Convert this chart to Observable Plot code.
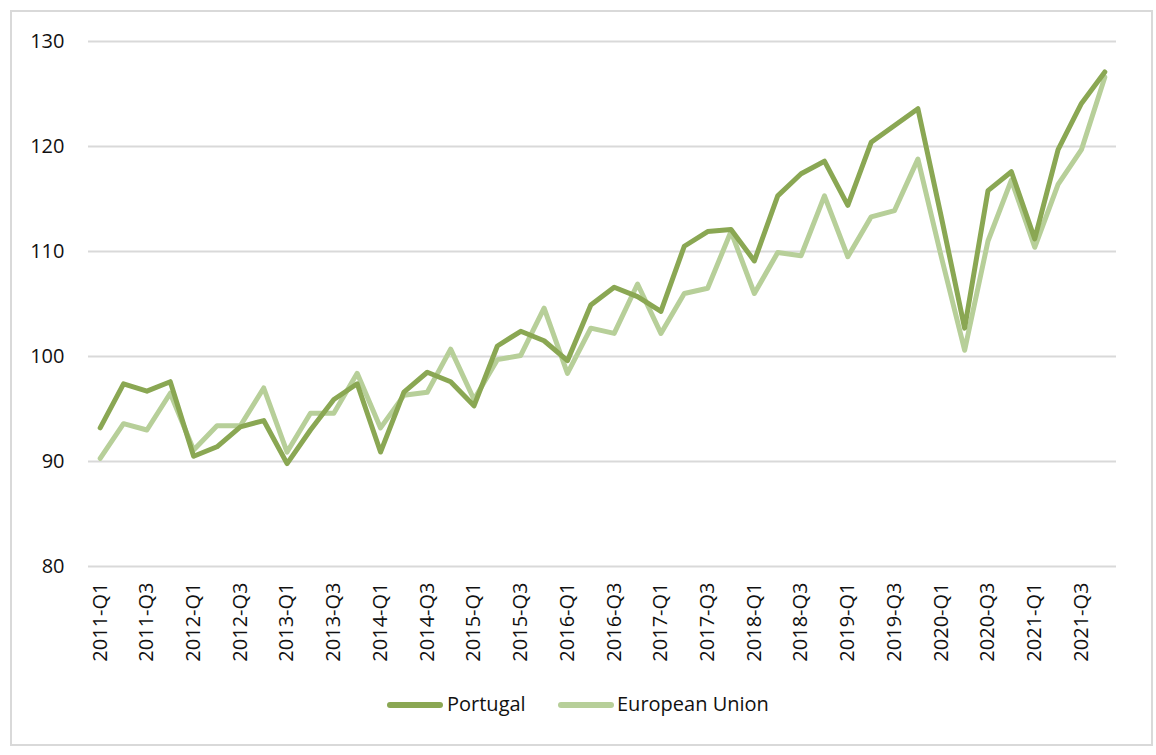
<!DOCTYPE html>
<html>
<head>
<meta charset="utf-8">
<script src="https://cdn.jsdelivr.net/npm/d3@7"></script>
<script src="https://cdn.jsdelivr.net/npm/@observablehq/plot@0.6"></script>
<style>
  body { margin: 0; background: #fff; font-family: "Open Sans", sans-serif; }
  #frame { position: absolute; left: 10px; top: 10px; width: 1139px; height: 732px; border: 2px solid #d9d9d9; box-sizing: content-box; }
  #chart { position: absolute; left: 0; top: 0; }
  .lg-sw { position: absolute; height: 6px; border-radius: 3px; width: 56px; }
  .lg-tx { position: absolute; font-size: 20px; color: #111; line-height: 1; }
</style>
</head>
<body>
<div id="frame"></div>
<div id="chart"></div>
<div id="legend"></div>
<script>
const quarters = [
  "2011-Q1","2011-Q2","2011-Q3","2011-Q4",
  "2012-Q1","2012-Q2","2012-Q3","2012-Q4",
  "2013-Q1","2013-Q2","2013-Q3","2013-Q4",
  "2014-Q1","2014-Q2","2014-Q3","2014-Q4",
  "2015-Q1","2015-Q2","2015-Q3","2015-Q4",
  "2016-Q1","2016-Q2","2016-Q3","2016-Q4",
  "2017-Q1","2017-Q2","2017-Q3","2017-Q4",
  "2018-Q1","2018-Q2","2018-Q3","2018-Q4",
  "2019-Q1","2019-Q2","2019-Q3","2019-Q4",
  "2020-Q1","2020-Q2","2020-Q3","2020-Q4",
  "2021-Q1","2021-Q2","2021-Q3","2021-Q4"
];
const portugal = [
  93.2, 97.4, 96.7, 97.6,
  90.5, 91.4, 93.3, 93.9,
  89.8, 93.0, 95.9, 97.4,
  90.9, 96.6, 98.5, 97.6,
  95.3, 101.0, 102.4, 101.5,
  99.6, 104.9, 106.6, 105.7,
  104.3, 110.5, 111.9, 112.1,
  109.1, 115.3, 117.4, 118.6,
  114.4, 120.4, 122.0, 123.6,
  113.3, 102.7, 115.8, 117.6,
  111.2, 119.7, 124.1, 127.1
];
const europeanUnion = [
  90.3, 93.6, 93.0, 96.5,
  91.1, 93.4, 93.4, 97.0,
  90.9, 94.6, 94.6, 98.4,
  93.2, 96.3, 96.6, 100.7,
  95.9, 99.7, 100.1, 104.6,
  98.4, 102.7, 102.2, 106.9,
  102.2, 106.0, 106.5, 111.9,
  106.0, 109.9, 109.6, 115.3,
  109.5, 113.3, 113.9, 118.8,
  109.5, 100.6, 111.0, 116.8,
  110.4, 116.4, 119.7, 126.6
];
const yTicks = [80, 90, 100, 110, 120, 130];
const xTickLabels = ["2011-Q1","2011-Q3","2012-Q1","2012-Q3","2013-Q1","2013-Q3","2014-Q1","2014-Q3",
  "2015-Q1","2015-Q3","2016-Q1","2016-Q3","2017-Q1","2017-Q3","2018-Q1","2018-Q3",
  "2019-Q1","2019-Q3","2020-Q1","2020-Q3","2021-Q1","2021-Q3"];
const seriesNames = ["Portugal", "European Union"];
const seriesColors = ["#8aa753", "#b7cf99"];

const ptData = quarters.map((q, i) => ({q, v: portugal[i]}));
const euData = quarters.map((q, i) => ({q, v: europeanUnion[i]}));

const chart = Plot.plot({
  width: 1156,
  height: 680,
  marginLeft: 88,
  marginRight: 40,
  marginTop: 41,
  marginBottom: 114,
  style: { fontFamily: "'Open Sans', sans-serif", fontSize: "20px", color: "#111", background: "transparent" },
  x: { type: "point", domain: quarters, padding: 0.5, round: false, label: null },
  y: { domain: [80, 130], label: null },
  marks: [
    Plot.gridY(yTicks, { stroke: "#d9d9d9", strokeOpacity: 1, strokeWidth: 2 }),
    Plot.axisY(yTicks, { tickSize: 0, tickPadding: 24, fontSize: 20, label: null }),
    Plot.axisX(xTickLabels, { tickSize: 0, tickRotate: -90, tickPadding: 16, fontSize: 20, label: null }),
    Plot.line(euData, { x: "q", y: "v", stroke: seriesColors[1], strokeWidth: 5, strokeLinejoin: "round", strokeLinecap: "round" }),
    Plot.line(ptData, { x: "q", y: "v", stroke: seriesColors[0], strokeWidth: 5, strokeLinejoin: "round", strokeLinecap: "round" })
  ]
});
document.getElementById("chart").appendChild(chart);

const legend = document.getElementById("legend");
const lgPos = [{sw: 387, tx: 447}, {sw: 558, tx: 617}];
seriesNames.forEach((name, i) => {
  const sw = document.createElement("div");
  sw.className = "lg-sw";
  sw.style.left = lgPos[i].sw + "px";
  sw.style.top = "702px";
  sw.style.background = seriesColors[i];
  legend.appendChild(sw);
  const tx = document.createElement("div");
  tx.className = "lg-tx";
  tx.style.left = lgPos[i].tx + "px";
  tx.style.top = "694px";
  tx.textContent = name;
  legend.appendChild(tx);
});
</script>
</body>
</html>
